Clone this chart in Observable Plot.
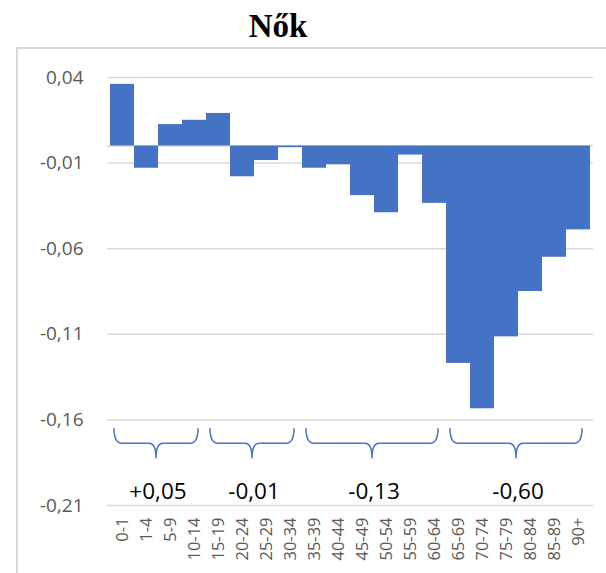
<!DOCTYPE html>
<html>
<head>
<meta charset="utf-8">
<script src="https://cdn.jsdelivr.net/npm/d3@7"></script>
<script src="https://cdn.jsdelivr.net/npm/@observablehq/plot@0.6"></script>
<style>
  html, body { margin: 0; padding: 0; background: #fff; }
  #wrap { position: relative; width: 606px; height: 573px; overflow: hidden; }
  #title { position: absolute; left: 0; top: 0; width: 556px; height: 48px; text-align: center;
    font-family: "Liberation Serif", "Times New Roman", serif; font-weight: bold; font-size: 33px;
    line-height: 48px; padding-top: 2px; box-sizing: border-box; color: #000; }
  #frame { position: absolute; left: 16px; top: 47px; width: 600px; height: 600px;
    border-left: 2px solid #d9d9d9; border-top: 2px solid #d9d9d9; box-sizing: border-box; }
  #chart { position: absolute; left: 0; top: 48px; }
</style>
</head>
<body>
<div id="wrap">
  <div id="title">Nők</div>
  <div id="frame"></div>
  <div id="chart"></div>
</div>
<script>
const categories = ["0-1","1-4","5-9","10-14","15-19","20-24","25-29","30-34","35-39","40-44",
  "45-49","50-54","55-59","60-64","65-69","70-74","75-79","80-84","85-89","90+"];
const values = [0.036, -0.013, 0.0125, 0.015, 0.019, -0.018, -0.0085, -0.001, -0.013, -0.011,
  -0.029, -0.039, -0.0053, -0.0335, -0.127, -0.1535, -0.1115, -0.085, -0.065, -0.049];
const yTicks = [0.04, -0.01, -0.06, -0.11, -0.16, -0.21];
const groupFrom = ["0-1", "15-19", "35-39", "65-69"];
const groupTo = ["10-14", "30-34", "60-64", "90+"];
const groupLabels = ["+0,05", "-0,01", "-0,13", "-0,60"];

const data = categories.map((c, i) => ({cat: c, v: values[i]}));
const groups = groupLabels.map((l, i) => ({from: groupFrom[i], to: groupTo[i], label: l}));

const fmt = d => d3.format(".2f")(d).replace("−", "-").replace(".", ",");
const BLUE = "#4472C4";

// brace levels (in data units)
const braceTop = -0.1652, braceMid = -0.174, braceTip = -0.1827, labelY = -0.2065;

function braces(index, scales) {
  const x = scales.x, y = scales.y, bw = x.bandwidth();
  const g = d3.create("svg:g");
  groups.forEach(gr => {
    const x0 = x(gr.from) + 4, x1 = x(gr.to) + bw - 8, c = (x0 + x1) / 2;
    const yt = y(braceTop), ym = y(braceMid), yp = y(braceTip);
    const p = `M${x0},${yt} Q${x0},${ym} ${x0+8},${ym} L${c-7},${ym} Q${c},${ym} ${c},${yp} Q${c},${ym} ${c+7},${ym} L${x1-8},${ym} Q${x1},${ym} ${x1},${yt}`;
    g.append("path").attr("d", p).attr("fill", "none").attr("stroke", BLUE).attr("stroke-width", 1.5);
  });
  return g.node();
}

function groupText(index, scales) {
  const x = scales.x, y = scales.y, bw = x.bandwidth();
  const g = d3.create("svg:g");
  groups.forEach(gr => {
    const c = (x(gr.from) + x(gr.to) + bw) / 2;
    g.append("text").attr("x", c).attr("y", y(labelY)).attr("text-anchor", "middle")
      .attr("font-family", "'Open Sans', 'Liberation Sans', sans-serif").attr("font-size", 22.5)
      .attr("fill", "#000").text(gr.label);
  });
  return g.node();
}

const chart = Plot.plot({
  width: 606,
  height: 525,
  marginLeft: 107,
  marginRight: 13,
  marginTop: 29,
  marginBottom: 68,
  style: {fontFamily: "'Open Sans', 'Liberation Sans', sans-serif", background: "transparent", overflow: "visible"},
  x: {type: "band", domain: categories, padding: 0, label: null},
  y: {domain: [-0.21, 0.04], label: null},
  marks: [
    Plot.gridY(yTicks, {stroke: "#d9d9d9", strokeOpacity: 1, strokeWidth: 1.5}),
    Plot.ruleY([0], {stroke: "#d9d9d9", strokeWidth: 1.5}),
    Plot.barY(data, {x: "cat", y: "v", fill: BLUE, inset: 0}),
    Plot.axisY(yTicks, {tickFormat: fmt, tickSize: 0, tickPadding: 24, fontSize: 19, color: "#595959", label: null}),
    Plot.axisX({tickSize: 0, tickRotate: -90, tickPadding: 12, fontSize: 16.5, color: "#595959", label: null}),
    braces,
    groupText
  ]
});
document.getElementById("chart").appendChild(chart);
</script>
</body>
</html>
